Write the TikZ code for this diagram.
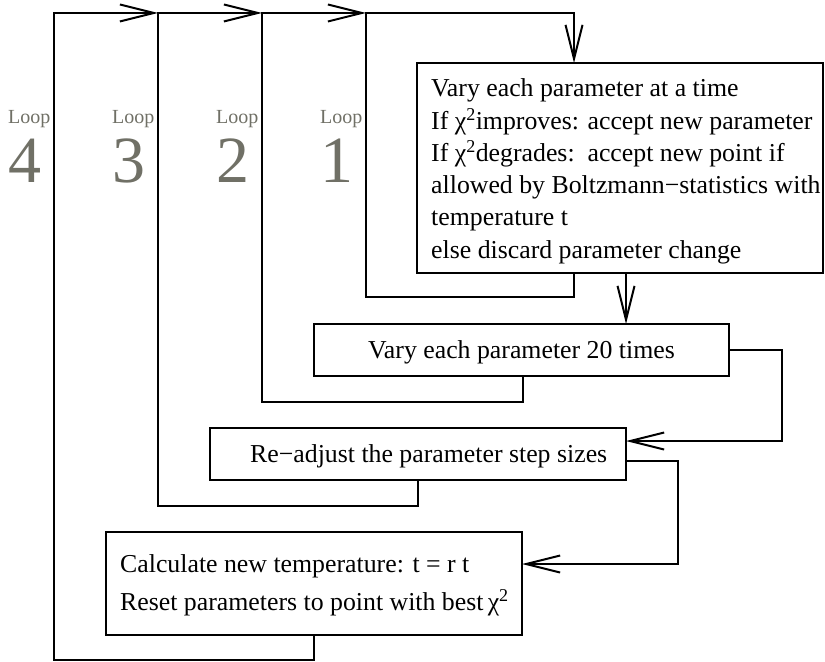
\documentclass[tikz,border=0pt]{standalone}
\usepackage{fontspec}
\setmainfont{Liberation Serif}
\usetikzlibrary{arrows.meta}
\definecolor{loopgray}{RGB}{112,112,102}
\begin{document}
\begin{tikzpicture}[x=1bp,y=-1bp,
  line/.style={line width=2bp, line join=miter},
  box/.style={draw, line width=2bp, rectangle, inner sep=0pt, outer sep=0pt},
  arr/.style={-{Straight Barb[length=34bp,width=17bp,line width=2bp]}},
  txt/.style={font=\fontsize{25.8bp}{31bp}\selectfont, inner sep=0pt},
  lbl/.style={text=loopgray, inner sep=0pt, anchor=base west, font=\fontsize{20bp}{24bp}\selectfont},
  num/.style={text=loopgray, inner sep=0pt, anchor=base west, font=\fontsize{66bp}{70bp}\selectfont}]
\useasboundingbox (0,0) rectangle (825,662);

% boxes
\node[box, minimum width=406bp, minimum height=210bp] (box1) at (620,168) {};
\node[box, minimum width=415bp, minimum height=52bp] (box2) at (521.5,350) {};
\node[box, minimum width=416bp, minimum height=52bp] (box3) at (418,454) {};
\node[box, minimum width=416bp, minimum height=103bp] (box4) at (314,583.5) {};

% texts
\node[txt, anchor=base west] (t1a) at (431,97) {Vary each parameter at a time};
\node[txt, anchor=base west] (t1b) at (431,129.2) {If χ\textsuperscript{2}improves: accept new parameter};
\node[txt, anchor=base west] (t1c) at (431,161.4) {If χ\textsuperscript{2}degrades:\ \ accept new point if};
\node[txt, anchor=base west] (t1d) at (431,193.6) {allowed by Boltzmann−statistics with};
\node[txt, anchor=base west] (t1e) at (431,225.8) {temperature t};
\node[txt, anchor=base west] (t1f) at (431,258) {else discard parameter change};
\node[txt, anchor=base] (t2) at (521.5,358) {Vary each parameter 20 times};
\node[txt, anchor=base west] (t3) at (250,462) {Re−adjust the parameter step sizes};
\node[txt, anchor=base west] (t4a) at (120,572) {Calculate new temperature: t = r t};
\node[txt, anchor=base west] (t4b) at (120,610) {Reset parameters to point with best\thinspace χ\textsuperscript{2}};

% loop labels
\node[lbl] (lp4) at (8,124) {Loop};   \node[num] (n4) at (8,182) {4};
\node[lbl] (lp3) at (112,124) {Loop}; \node[num] (n3) at (112,182) {3};
\node[lbl] (lp2) at (216,124) {Loop}; \node[num] (n2) at (216,182) {2};
\node[lbl] (lp1) at (320,124) {Loop}; \node[num] (n1) at (320,182) {1};

% coordinates
\coordinate (L1) at (574,297);
\coordinate (L2) at (523,402);
\coordinate (L3) at (418,506);
\coordinate (L4) at (314,660);
\coordinate (T0) at (574,13);
\coordinate (T1) at (366,13);
\coordinate (T2) at (262,13);
\coordinate (T3) at (158,13);
\coordinate (T4) at (54,13);
\coordinate (A1) at (626,300);
\coordinate (B2) at (782,441);
\coordinate (B3) at (678,461);
\coordinate (B4) at (678,564);

% loop connectors
\draw[line, arr] (box1.south -| L1) -- (L1) -| (T1) -- (T0) -- (box1.north -| T0);
\draw[line, arr] (box2.south -| L2) -- (L2) -| (T2) -- (T1);
\draw[line, arr] (box3.south -| L3) -- (L3) -| (T3) -- (T2);
\draw[line, arr] (box4.south -| L4) -- (L4) -| (T4) -- (T3);

% forward connectors
\draw[line, arr] (box1.south -| A1) -- (box2.north -| A1);
\draw[line, arr] (box2.east) -| (B2) -- (box3.east |- B2);
\draw[line, arr] (box3.east |- B3) -- (B3) -- (B4) -- (box4.east |- B4);
\end{tikzpicture}
\end{document}
